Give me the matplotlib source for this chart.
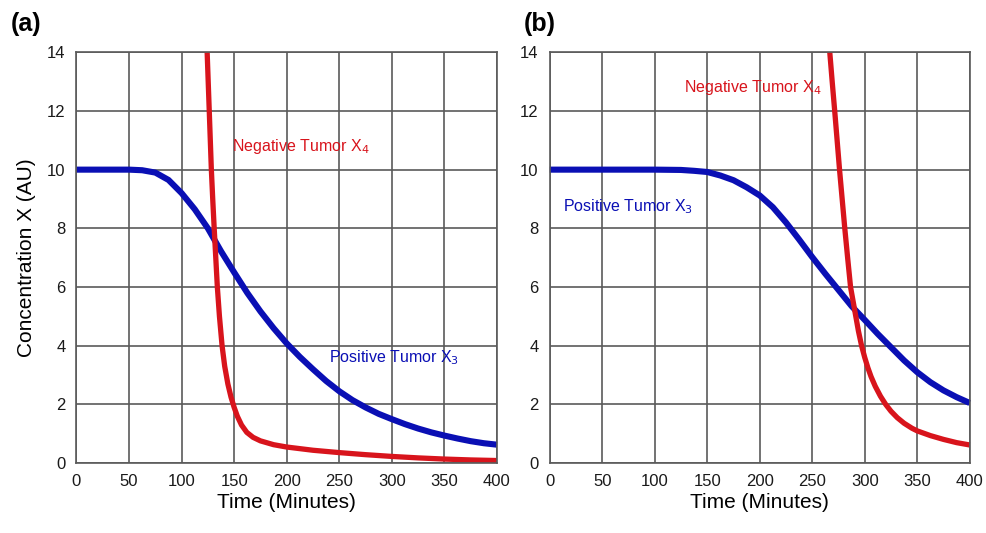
import matplotlib
matplotlib.use("Agg")
import matplotlib.pyplot as plt

plt.rcParams['font.family'] = ['Liberation Sans', 'DejaVu Sans']

# panel (a): early response
t_pos_a = [0, 25, 50, 62.5, 75, 87.5, 100, 112.5, 125, 137.5, 150, 162.5, 175, 187.5, 200,
           212.5, 225, 237.5, 250, 262.5, 275, 287.5, 300, 312.5, 325, 337.5, 350, 362.5, 375, 387.5, 400]
x3_a = [10.0, 10.0, 10.0, 9.98, 9.9, 9.65, 9.2, 8.65, 8.0, 7.22, 6.5, 5.8, 5.17, 4.6, 4.08,
        3.62, 3.2, 2.8, 2.45, 2.15, 1.9, 1.68, 1.5, 1.33, 1.18, 1.05, 0.94, 0.84, 0.75, 0.68, 0.63]
t_neg_a = [124.3, 125.3, 126.3, 127.3, 128.3, 129.6, 131, 132.5, 134, 136, 138.5, 141, 144, 147, 150,
           153, 157, 162, 168, 175, 187.5, 200, 225, 250, 275, 300, 325, 350, 375, 400]
x4_a = [14.0, 13.0, 12.0, 11.0, 10.0, 9.0, 8.0, 7.0, 6.0, 5.0, 4.0, 3.3, 2.7, 2.25, 1.9,
        1.6, 1.3, 1.05, 0.88, 0.76, 0.63, 0.55, 0.44, 0.36, 0.29, 0.23, 0.18, 0.14, 0.11, 0.09]

# panel (b): delayed response
t_pos_b = [0, 50, 100, 125, 137.5, 150, 162.5, 175, 187.5, 200, 212.5, 225, 237.5, 250, 262.5,
           275, 287.5, 300, 312.5, 325, 337.5, 350, 362.5, 375, 387.5, 400]
x3_b = [10.0, 10.0, 10.0, 9.99, 9.96, 9.92, 9.8, 9.64, 9.4, 9.12, 8.72, 8.2, 7.62, 7.02, 6.45,
        5.9, 5.35, 4.88, 4.4, 3.95, 3.5, 3.1, 2.76, 2.48, 2.25, 2.05]
t_neg_b = [266.7, 269, 271.4, 273.7, 276, 278.5, 281, 283.7, 286.5, 289, 291.5, 294, 297, 300, 303,
           306, 310, 315, 320, 325, 331, 337.5, 345, 350, 362.5, 375, 387.5, 400]
x4_b = [14.0, 13.0, 12.0, 11.0, 10.0, 9.0, 8.0, 7.0, 6.0, 5.5, 5.0, 4.5, 4.0, 3.6, 3.25,
        2.95, 2.62, 2.28, 2.0, 1.77, 1.55, 1.36, 1.19, 1.1, 0.94, 0.81, 0.7, 0.62]

x_ticks = [0, 50, 100, 150, 200, 250, 300, 350, 400]
y_ticks = [0, 2, 4, 6, 8, 10, 12, 14]

BLUE = '#0a0fb4'
RED = '#d8141c'
GRID = '#5a5a5a'

fig = plt.figure(figsize=(9.87, 5.33), dpi=100)
ax_a = fig.add_axes([0.0775, 0.131, 0.426, 0.771])
ax_b = fig.add_axes([0.557, 0.131, 0.4255, 0.771])


def style_axes(ax):
    ax.set_xlim(0, 400)
    ax.set_ylim(0, 14)
    ax.set_xticks(x_ticks)
    ax.set_yticks(y_ticks)
    ax.grid(True, color=GRID, linewidth=1.2)
    ax.set_axisbelow(True)
    ax.tick_params(length=0, pad=8, labelsize=12, labelcolor='#1a1a1a')
    for s in ax.spines.values():
        s.set_color(GRID)
        s.set_linewidth(1.2)
    ax.set_xlabel('Time (Minutes)', fontsize=15, labelpad=3)


def draw_curves(ax, t_pos, x3, t_neg, x4):
    ax.plot(t_pos, x3, color=BLUE, linewidth=4.4, solid_joinstyle='round',
            solid_capstyle='butt', clip_on=False)
    ax.plot(t_neg, x4, color=RED, linewidth=3.8, solid_joinstyle='round',
            solid_capstyle='butt', clip_on=False)


style_axes(ax_a)
draw_curves(ax_a, t_pos_a, x3_a, t_neg_a, x4_a)
ax_a.text(148, 10.8, 'Negative Tumor X$_4$', color=RED, fontsize=11.5, va='center')
ax_a.text(240, 3.6, 'Positive Tumor X$_3$', color=BLUE, fontsize=11.5, va='center')
ax_a.set_ylabel('Concentration X (AU)', fontsize=15, labelpad=8)

style_axes(ax_b)
draw_curves(ax_b, t_pos_b, x3_b, t_neg_b, x4_b)
ax_b.text(128, 12.8, 'Negative Tumor X$_4$', color=RED, fontsize=11.5, va='center')
ax_b.text(13, 8.75, 'Positive Tumor X$_3$', color=BLUE, fontsize=11.5, va='center')

fig.text(0.011, 0.955, '(a)', fontsize=18, fontweight='bold', va='center')
fig.text(0.531, 0.955, '(b)', fontsize=18, fontweight='bold', va='center')

fig.savefig('out.png', dpi=100)
